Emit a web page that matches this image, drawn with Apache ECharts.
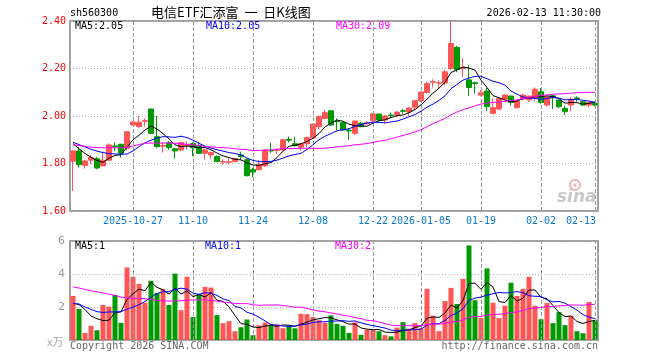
<!DOCTYPE html>
<html><head><meta charset="utf-8">
<script src="https://cdn.jsdelivr.net/npm/echarts@6/dist/echarts.min.js"></script>
<style>html,body{margin:0;padding:0;background:#fff}#c{width:660px;height:360px}</style>
</head><body><div id="c"></div>
<script>
const dates = [
'2025-10-13','2025-10-14','2025-10-15','2025-10-16','2025-10-17','2025-10-20','2025-10-21','2025-10-22','2025-10-23','2025-10-24',
'2025-10-27','2025-10-28','2025-10-29','2025-10-30','2025-10-31','2025-11-03','2025-11-04','2025-11-05','2025-11-06','2025-11-07',
'2025-11-10','2025-11-11','2025-11-12','2025-11-13','2025-11-14','2025-11-17','2025-11-18','2025-11-19','2025-11-20','2025-11-21',
'2025-11-24','2025-11-25','2025-11-26','2025-11-27','2025-11-28','2025-12-01','2025-12-02','2025-12-03','2025-12-04','2025-12-05',
'2025-12-08','2025-12-09','2025-12-10','2025-12-11','2025-12-12','2025-12-15','2025-12-16','2025-12-17','2025-12-18','2025-12-19',
'2025-12-22','2025-12-23','2025-12-24','2025-12-25','2025-12-26','2025-12-29','2025-12-30','2025-12-31','2026-01-05','2026-01-06',
'2026-01-07','2026-01-08','2026-01-09','2026-01-12','2026-01-13','2026-01-14','2026-01-15','2026-01-16','2026-01-19','2026-01-20',
'2026-01-21','2026-01-22','2026-01-23','2026-01-26','2026-01-27','2026-01-28','2026-01-29','2026-01-30','2026-02-02','2026-02-03',
'2026-02-04','2026-02-05','2026-02-06','2026-02-09','2026-02-10','2026-02-11','2026-02-12','2026-02-13'];

const tickDates  = ['2025-10-27','2025-11-10','2025-11-24','2025-12-08','2025-12-22','2026-01-05','2026-01-19','2026-02-02','2026-02-13'];
const tickLabels = ['2025-10-27','11-10','11-24','12-08','12-22','2026-01-05','01-19','02-02','02-13'];

const opens = [1.810,1.853,1.792,1.814,1.820,1.790,1.814,1.874,1.881,1.864,
1.962,1.955,1.978,2.029,1.913,1.873,1.888,1.862,1.857,1.876,
1.884,1.876,1.843,1.836,1.829,1.806,1.805,1.808,1.836,1.816,
1.774,1.774,1.790,1.855,1.855,1.857,1.901,1.883,1.869,1.883,
1.908,1.955,1.990,2.022,1.978,1.972,1.940,1.927,1.970,1.968,
1.980,2.008,1.983,2.004,2.004,2.022,2.017,2.037,2.064,2.099,
2.142,2.138,2.139,2.200,2.289,2.200,2.152,2.140,2.088,2.105,
2.011,2.029,2.071,2.084,2.035,2.071,2.068,2.076,2.102,2.046,
2.085,2.067,2.032,2.046,2.076,2.060,2.046,2.053];
const closes = [1.853,1.795,1.811,1.825,1.781,1.814,1.878,1.870,1.843,1.934,
1.975,1.974,1.980,1.927,1.871,1.876,1.867,1.853,1.888,1.879,
1.866,1.843,1.857,1.846,1.808,1.808,1.807,1.821,1.829,1.749,
1.764,1.795,1.857,1.853,1.857,1.900,1.898,1.875,1.883,1.910,
1.966,1.997,2.014,1.962,1.976,1.941,1.937,1.979,1.955,1.972,
2.009,1.983,2.000,2.002,2.016,2.020,2.034,2.064,2.101,2.137,
2.145,2.140,2.186,2.305,2.196,2.205,2.120,2.137,2.098,2.039,
2.035,2.074,2.088,2.057,2.063,2.088,2.084,2.113,2.057,2.081,
2.077,2.039,2.018,2.071,2.074,2.046,2.057,2.046];
const lows = [1.684,1.783,1.778,1.797,1.776,1.788,1.811,1.852,1.825,1.855,
1.958,1.950,1.955,1.925,1.866,1.846,1.858,1.820,1.852,1.858,
1.830,1.841,1.815,1.818,1.806,1.795,1.797,1.805,1.816,1.745,
1.742,1.770,1.787,1.845,1.840,1.855,1.888,1.872,1.855,1.868,
1.906,1.945,1.986,1.958,1.940,1.938,1.900,1.920,1.952,1.962,
1.972,1.980,1.970,1.990,1.995,2.010,2.000,2.025,2.060,2.095,
2.120,2.115,2.130,2.195,2.185,2.165,2.085,2.095,2.083,2.021,
2.008,2.025,2.068,2.045,2.030,2.066,2.060,2.062,2.050,2.040,
2.030,2.033,2.004,2.020,2.060,2.044,2.036,2.040];
const highs = [1.856,1.870,1.812,1.836,1.828,1.850,1.885,1.888,1.883,1.936,
1.978,2.000,1.990,2.032,2.001,1.889,1.895,1.866,1.892,1.893,
1.890,1.892,1.862,1.850,1.834,1.818,1.820,1.823,1.850,1.822,
1.782,1.815,1.861,1.887,1.862,1.901,1.914,1.912,1.886,1.912,
1.967,2.002,2.025,2.025,1.990,1.974,1.950,1.980,1.975,1.978,
2.012,2.010,2.004,2.015,2.022,2.030,2.036,2.068,2.103,2.145,
2.155,2.150,2.195,2.400,2.295,2.245,2.214,2.145,2.110,2.120,
2.075,2.076,2.090,2.086,2.065,2.094,2.086,2.120,2.118,2.085,
2.090,2.070,2.044,2.080,2.083,2.062,2.062,2.057];

const ma5 = [1.884,1.862,1.842,1.826,1.813,1.805,1.822,1.834,1.837,1.868,
1.900,1.919,1.941,1.958,1.945,1.926,1.904,1.879,1.871,1.873,
1.871,1.866,1.867,1.858,1.844,1.832,1.825,1.818,1.815,1.803,
1.794,1.792,1.799,1.804,1.825,1.852,1.873,1.877,1.883,1.893,
1.906,1.926,1.954,1.970,1.983,1.978,1.966,1.959,1.958,1.957,
1.970,1.980,1.984,1.993,2.002,2.004,2.014,2.027,2.047,2.071,
2.096,2.117,2.142,2.183,2.194,2.206,2.202,2.193,2.151,2.120,
2.086,2.077,2.067,2.059,2.063,2.074,2.076,2.081,2.081,2.085,
2.082,2.073,2.054,2.057,2.056,2.050,2.053,2.059];
const ma10 = [1.889,1.880,1.870,1.860,1.852,1.846,1.842,1.840,1.839,1.840,
1.853,1.871,1.887,1.898,1.907,1.913,1.912,1.910,1.915,1.909,
1.898,1.885,1.873,1.865,1.858,1.852,1.846,1.842,1.836,1.823,
1.813,1.808,1.808,1.809,1.814,1.823,1.832,1.838,1.843,1.859,
1.879,1.900,1.915,1.926,1.938,1.942,1.946,1.957,1.964,1.970,
1.974,1.973,1.971,1.975,1.979,1.987,1.997,2.006,2.020,2.037,
2.050,2.066,2.085,2.115,2.133,2.151,2.160,2.167,2.167,2.157,
2.146,2.140,2.130,2.105,2.092,2.080,2.076,2.074,2.070,2.074,
2.078,2.075,2.068,2.069,2.070,2.066,2.063,2.057];
const ma30 = [1.878,1.876,1.872,1.869,1.867,1.866,1.866,1.866,1.866,1.868,
1.874,1.880,1.885,1.886,1.886,1.886,1.886,1.885,1.883,1.881,
1.879,1.875,1.872,1.870,1.868,1.867,1.865,1.862,1.860,1.858,
1.855,1.855,1.856,1.857,1.860,1.863,1.863,1.863,1.865,1.864,
1.864,1.864,1.865,1.867,1.870,1.872,1.875,1.879,1.881,1.884,
1.889,1.894,1.898,1.904,1.911,1.918,1.925,1.933,1.942,1.955,
1.968,1.979,1.990,2.005,2.017,2.027,2.034,2.043,2.050,2.055,
2.057,2.059,2.062,2.065,2.068,2.073,2.078,2.082,2.086,2.089,
2.092,2.093,2.094,2.096,2.098,2.099,2.100,2.099];

const volumes = [2.67,1.88,0.43,0.86,0.59,2.12,2.02,2.73,1.04,4.40,
3.83,3.40,2.26,3.59,2.85,3.10,2.12,4.02,1.81,3.83,
1.39,2.77,3.22,3.18,1.51,1.02,1.14,0.53,0.77,1.24,
0.29,0.90,1.06,0.94,0.96,0.71,0.84,0.71,1.59,1.57,
1.39,1.20,1.04,1.49,0.98,0.86,0.43,1.08,0.31,0.63,
0.63,0.53,0.29,0.22,0.75,1.08,0.69,1.02,0.71,3.10,
1.47,0.53,2.36,3.16,2.18,3.71,5.73,2.41,1.33,4.34,
2.26,1.33,2.08,3.47,2.67,3.10,3.83,2.08,1.26,2.24,
1.02,1.69,0.90,1.45,0.53,0.41,2.30,1.20];
const volMa5 = [2.22,2.15,1.85,1.45,1.29,1.18,1.20,1.66,1.70,2.46,
2.80,3.08,2.99,3.50,3.19,3.04,2.78,3.14,2.78,2.98,
2.63,2.76,2.60,2.88,2.41,2.34,2.01,1.48,0.99,0.94,
0.79,0.75,0.85,0.89,0.83,0.91,0.90,0.83,0.96,1.08,
1.22,1.29,1.36,1.34,1.22,1.11,0.96,0.97,0.73,0.66,
0.62,0.64,0.48,0.46,0.48,0.57,0.61,0.75,0.85,1.32,
1.40,1.37,1.63,2.12,1.94,2.39,3.43,3.44,3.07,3.50,
3.21,2.33,2.27,2.70,2.36,2.53,3.03,3.03,2.59,2.50,
2.09,1.66,1.42,1.46,1.12,1.00,1.12,1.18];
const volMa10 = [2.22,2.18,2.00,1.85,1.72,1.67,1.70,1.70,1.72,1.87,
1.99,2.14,2.33,2.60,2.82,2.92,2.93,3.06,3.14,3.08,
2.84,2.77,2.87,2.83,2.70,2.49,2.39,2.04,1.94,1.68,
1.57,1.38,1.16,0.94,0.89,0.85,0.82,0.84,0.92,0.96,
1.07,1.10,1.10,1.15,1.15,1.17,1.13,1.16,1.04,0.94,
0.87,0.80,0.72,0.60,0.57,0.60,0.62,0.62,0.66,0.90,
0.99,0.99,1.19,1.49,1.63,1.89,2.40,2.54,2.60,2.72,
2.80,2.88,2.85,2.88,2.93,2.87,2.68,2.65,2.64,2.43,
2.31,2.34,2.23,2.02,1.81,1.54,1.39,1.30];
const volMa30 = [3.22,3.15,3.07,2.98,2.92,2.85,2.78,2.70,2.60,2.55,
2.53,2.52,2.50,2.45,2.40,2.37,2.36,2.36,2.38,2.41,
2.43,2.43,2.43,2.40,2.36,2.30,2.26,2.22,2.20,2.21,
2.13,2.10,2.12,2.12,2.13,2.09,2.05,1.98,2.00,1.91,
1.82,1.75,1.71,1.64,1.58,1.50,1.45,1.35,1.30,1.19,
1.17,1.09,0.99,0.90,0.87,0.87,0.86,0.87,0.87,0.93,
0.97,0.96,1.00,1.08,1.12,1.22,1.38,1.44,1.43,1.52,
1.55,1.56,1.59,1.66,1.71,1.79,1.90,1.93,1.97,2.02,
2.03,2.07,2.09,2.13,2.12,2.10,2.16,2.16];

const priceMaLabels = ['MA5:2.05','MA10:2.05','MA30:2.09'];
const volMaLabels = ['MA5:1','MA10:1','MA30:2'];

const UP = '#ff5555', DOWN = '#009900';
const MONO = 'DejaVu Sans Mono';
const candleData = dates.map((d, i) => [opens[i], closes[i], lows[i], highs[i]]);
const tickIdx = new Set(tickDates.map(d => dates.indexOf(d)));
const labelFn = (idx) => tickIdx.has(idx);

const chart = echarts.init(document.getElementById('c'), null, {renderer: 'canvas'});
const gridBorder = {show: true, borderColor: '#a0a0a0', borderWidth: 2, backgroundColor: 'transparent'};
const hSplit = {show: true, lineStyle: {color: '#b4b4b4', type: [1, 2], width: 1}};

function lineSeries(data, color, xi, yi) {
  return {type: 'line', data: data, xAxisIndex: xi, yAxisIndex: yi, symbol: 'none', smooth: false,
    lineStyle: {color: color, width: 1}, itemStyle: {color: color}, z: 5, silent: true};
}
// Date gridlines: markLines at each labelled date
function dateMarkLines() {
  return {symbol: ['none', 'none'], silent: true, animation: false, label: {show: false},
    lineStyle: {color: '#999999', width: 1, type: 'dashed'},
    data: tickDates.map(d => ({xAxis: dates.indexOf(d) - 0.5}))};
}

chart.setOption({
  animation: false,
  backgroundColor: '#fff',
  grid: [
    Object.assign({left: 70, top: 21, width: 528, height: 190}, gridBorder),
    Object.assign({left: 70, top: 241, width: 528, height: 99}, gridBorder)
  ],
  xAxis: [
    {type: 'category', gridIndex: 0, data: dates, boundaryGap: true,
     axisLine: {show: false}, axisTick: {show: false}, splitLine: {show: false},
     axisLabel: {show: true, interval: labelFn, margin: 5, color: '#0a78d2', fontFamily: MONO, fontSize: 10,
       formatter: (v) => {
         const k = tickDates.indexOf(v);
         if (k < 0) return '';
         return k === tickDates.length - 1 ? '{last|' + tickLabels[k] + '}' : tickLabels[k];
       },
       rich: {last: {padding: [0, 28, 0, 0], color: '#0a78d2', fontFamily: MONO, fontSize: 10}}}},
    {type: 'category', gridIndex: 1, data: dates, boundaryGap: true,
     axisLine: {show: false}, axisTick: {show: false}, axisLabel: {show: false}, splitLine: {show: false}}
  ],
  yAxis: [
    {type: 'value', gridIndex: 0, min: 1.6, max: 2.4, interval: 0.2,
     axisLine: {show: false}, axisTick: {show: false},
     axisLabel: {color: '#ff0000', fontFamily: MONO, fontSize: 10, margin: 4, formatter: (v) => v.toFixed(2)},
     splitLine: hSplit},
    {type: 'value', gridIndex: 1, min: 0, max: 6, interval: 2,
     axisLine: {show: false}, axisTick: {show: false},
     axisLabel: {color: '#999', fontFamily: 'DejaVu Sans', fontSize: 11, margin: 5, formatter: (v) => v === 0 ? '' : String(v)},
     splitLine: hSplit}
  ],
  series: [
    {type: 'candlestick', data: candleData, xAxisIndex: 0, yAxisIndex: 0, barWidth: 5,
     itemStyle: {color: UP, color0: DOWN, borderColor: UP, borderColor0: DOWN, borderWidth: 1}, z: 3, silent: true,
     markLine: dateMarkLines()},
    lineSeries(ma5, '#000000', 0, 0),
    lineSeries(ma10, '#0000ff', 0, 0),
    lineSeries(ma30, '#ff00ff', 0, 0),
    {type: 'bar', data: volumes, xAxisIndex: 1, yAxisIndex: 1, barWidth: 5, z: 3, silent: true,
     itemStyle: {color: (p) => closes[p.dataIndex] >= opens[p.dataIndex] ? UP : DOWN},
     markLine: dateMarkLines()},
    lineSeries(volMa5, '#000000', 1, 1),
    lineSeries(volMa10, '#0000ff', 1, 1),
    lineSeries(volMa30, '#ff00ff', 1, 1)
  ],
  graphic: [
    {type: 'text', left: 70, top: 8, style: {text: 'sh560300', font: '10px "DejaVu Sans Mono"', fill: '#000'}},
    {type: 'text', left: 151, top: 6, style: {text: '电信ETF汇添富  一  日K线图', font: '13px "Noto Sans CJK SC"', fill: '#000'}},
    {type: 'text', right: 59, top: 8, style: {text: '2026-02-13 11:30:00', font: '10px "DejaVu Sans Mono"', fill: '#000'}},
    {type: 'text', left: 75, top: 21, z: 10, style: {text: priceMaLabels[0], font: '10px "DejaVu Sans Mono"', fill: '#000'}},
    {type: 'text', left: 206, top: 21, z: 10, style: {text: priceMaLabels[1], font: '10px "DejaVu Sans Mono"', fill: '#0000ff'}},
    {type: 'text', left: 336, top: 21, z: 10, style: {text: priceMaLabels[2], font: '10px "DejaVu Sans Mono"', fill: '#ff00ff'}},
    {type: 'text', left: 75, top: 241, z: 10, style: {text: volMaLabels[0], font: '10px "DejaVu Sans Mono"', fill: '#000'}},
    {type: 'text', left: 205, top: 241, z: 10, style: {text: volMaLabels[1], font: '10px "DejaVu Sans Mono"', fill: '#0000ff'}},
    {type: 'text', left: 335, top: 241, z: 10, style: {text: volMaLabels[2], font: '10px "DejaVu Sans Mono"', fill: '#ff00ff'}},
    {type: 'text', left: 70, top: 341, style: {text: 'Copyright 2026 SINA.COM', font: '10px "DejaVu Sans Mono"', fill: '#666'}},
    {type: 'text', right: 62, top: 341, style: {text: 'http://finance.sina.com.cn', font: '10px "DejaVu Sans Mono"', fill: '#666'}},
    {type: 'text', left: 47, top: 336, style: {text: 'x万', font: '11px "Noto Sans CJK SC"', fill: '#aaa'}},
    {type: 'circle', shape: {cx: 575, cy: 185, r: 5}, z: 1, style: {fill: 'none', stroke: '#f2b0b0', lineWidth: 2}},
    {type: 'circle', shape: {cx: 575, cy: 185, r: 1.5}, z: 1, style: {fill: '#f2b0b0'}},
    {type: 'text', left: 557, top: 189, z: 1, style: {text: 'sina', font: 'italic bold 17px "DejaVu Sans"', fill: '#c8c8c8'}}
  ]
});
</script></body></html>
